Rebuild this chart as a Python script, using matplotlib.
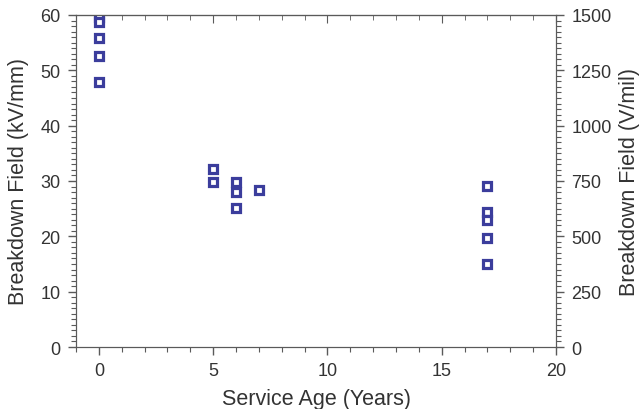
import matplotlib
matplotlib.use("Agg")
import matplotlib.pyplot as plt
from matplotlib.ticker import MultipleLocator

plt.rcParams['font.family'] = ['Liberation Sans', 'DejaVu Sans']

# service age (years) and breakdown field (kV/mm)
age = [0, 0, 0, 0, 0,
       5, 5,
       6, 6, 6,
       7,
       17, 17, 17, 17, 17]
field = [59.6, 58.7, 55.8, 52.6, 47.9,
         32.2, 29.8,
         29.8, 28.0, 25.1,
         28.4,
         29.1, 24.4, 23.0, 19.7, 15.0]

xticks = [0, 5, 10, 15, 20]
yticks = [0, 10, 20, 30, 40, 50, 60]
yticks_r = [0, 250, 500, 750, 1000, 1250, 1500]

fig = plt.figure(figsize=(6.41, 4.10), dpi=100)
ax = fig.add_axes([0.1186, 0.1512, 0.7488, 0.8098])

ax.plot(age, field, linestyle='none', marker='s', markersize=5.3,
        markerfacecolor='white', markeredgecolor='#3b3d9c', markeredgewidth=2.3)

spine_col = '#5a5a5a'
txt_col = '#333333'

ax.set_xlim(-1, 20)
ax.set_ylim(0, 60)
ax.set_xticks(xticks)
ax.set_yticks(yticks)
ax.xaxis.set_minor_locator(MultipleLocator(1))
ax.yaxis.set_minor_locator(MultipleLocator(1))
ax.tick_params(axis='both', which='major', direction='out', length=6, width=1,
               color=spine_col, labelsize=13, labelcolor=txt_col, pad=5)
ax.tick_params(axis='both', which='minor', direction='out', length=3.5, width=0.8,
               color=spine_col)
for s in ax.spines.values():
    s.set_color(spine_col)

# top ticks point inward
axt = ax.secondary_xaxis('top')
axt.set_xticks(xticks)
axt.xaxis.set_minor_locator(MultipleLocator(1))
axt.tick_params(which='major', direction='in', length=6, color=spine_col, labeltop=False)
axt.tick_params(which='minor', direction='in', length=3.5, color=spine_col)
axt.spines['top'].set_color(spine_col)

ax.set_xlabel('Service Age (Years)', fontsize=15.5, color=txt_col, labelpad=6)
ax.set_ylabel('Breakdown Field (kV/mm)', fontsize=15.5, color=txt_col, labelpad=8)

ax2 = ax.twinx()
ax2.set_ylim(0, 1500)
ax2.set_yticks(yticks_r)
ax2.yaxis.set_minor_locator(MultipleLocator(25))
ax2.tick_params(which='major', direction='out', length=6, width=1,
                color=spine_col, labelsize=13, labelcolor=txt_col, pad=5)
ax2.tick_params(which='minor', direction='out', length=3.5, width=0.8, color=spine_col)
for s in ax2.spines.values():
    s.set_color(spine_col)
ax2.set_ylabel('Breakdown Field (V/mil)', fontsize=15.5, color=txt_col, labelpad=5)

fig.savefig('out.png', dpi=100)
